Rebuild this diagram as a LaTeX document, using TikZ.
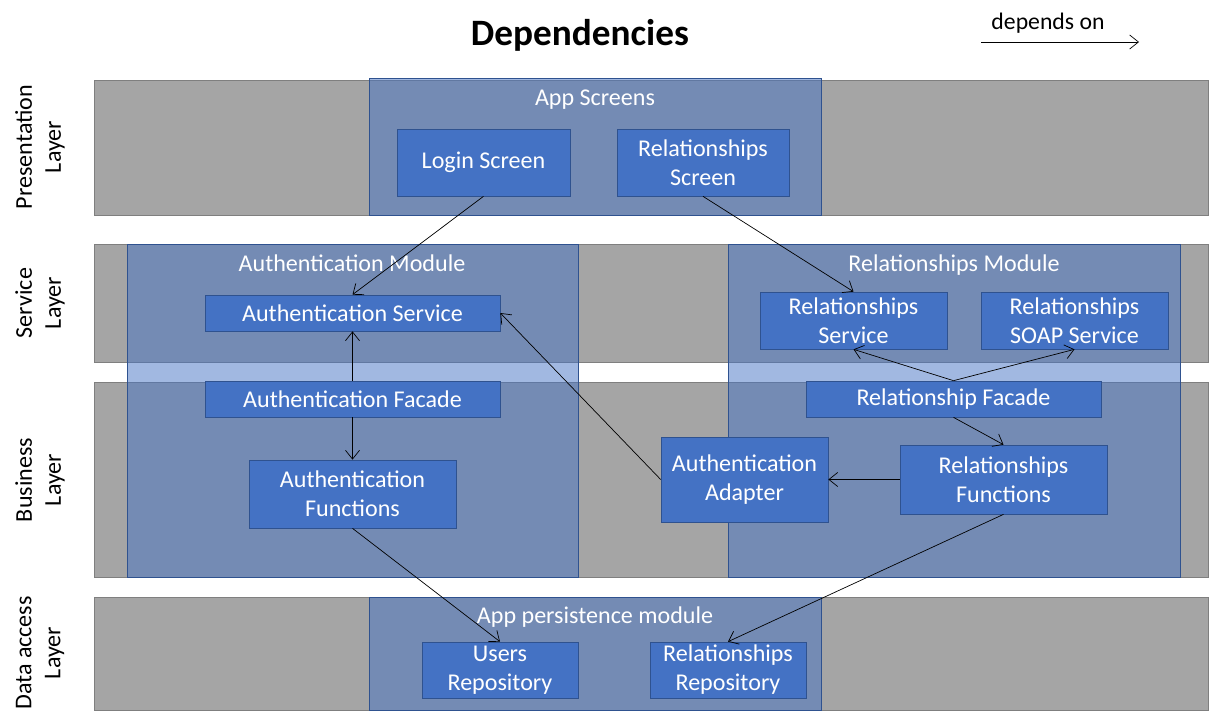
\documentclass[tikz,border=0pt]{standalone}
\usepackage{fontspec}
\setmainfont{Carlito}
\usepackage{tikz}
\usetikzlibrary{arrows.meta, calc, positioning}

\definecolor{bandgray}{HTML}{A5A5A5}
\definecolor{banddraw}{HTML}{7F7F7F}
\definecolor{boxblue}{HTML}{4472C4}
\definecolor{boxdraw}{HTML}{2F528F}

\begin{document}
\begin{tikzpicture}[x=0.02cm, y=-0.02cm, >={Straight Barb[length=5pt, width=8pt]}, font=\fontsize{13.7}{16.5}\selectfont,
    band/.style={draw=banddraw, fill=bandgray},
    module/.style={draw=boxdraw, fill=boxblue, fill opacity=0.5, draw opacity=1},
    comp/.style={draw=boxdraw, fill=boxblue, text=white, align=center, inner sep=0pt},
    modlabel/.style={text=white, text height=0.7em, text depth=0.22em},
    layerlabel/.style={rotate=90, align=center},
    dep/.style={->, black, thin}]
  \useasboundingbox (0,0) rectangle (1209,724);

  % layer bands
  \foreach \top/\bot in {80/215, 244/362, 382/577, 597/710} {\draw[band] (94,\top) rectangle (1208,\bot);}
  \node[layerlabel] (lpres) at (40,147) {Presentation\\Layer};
  \node[layerlabel] (lserv) at (40,303) {Service\\Layer};
  \node[layerlabel] (lbus) at (40,480) {Business\\Layer};
  \node[layerlabel] (ldata) at (40,653) {Data access\\Layer};

  % title and legend
  \node[font=\fontsize{21.2}{25}\selectfont\bfseries] (title) at (580,35) {Dependencies};
  \node[font=\fontsize{13.5}{16}\selectfont] (legend) at (1048,23) {depends on};
  \coordinate (lgA) at (981,42);
  \coordinate (lgB) at (1139,42);
  \draw[dep] (lgA) -- (lgB);

  % modules
  \draw[module] (369,78) rectangle (821,215);
  \draw[module] (127,244) rectangle (578,577);
  \draw[module] (728,244) rectangle (1180,577);
  \draw[module] (369,597) rectangle (821,710);
  \node[modlabel] (mscreens) at (595,101) {App Screens};
  \node[modlabel] (mauth) at (352,267) {Authentication Module};
  \node[modlabel] (mrel) at (954,267) {Relationships Module};
  \node[modlabel] (mpers) at (595,619) {App persistence module};

  % components
  \node[comp, minimum width=3.46cm, minimum height=1.34cm] (login) at (483.5,162.5) {Login Screen};
  \node[comp, minimum width=3.44cm, minimum height=1.34cm] (relscreen) at (703,162.5) {Relationships\\Screen};
  \node[comp, minimum width=5.9cm, minimum height=0.72cm] (authsvc) at (352.5,313) {Authentication Service};
  \node[comp, minimum width=5.9cm, minimum height=0.72cm] (authfac) at (352.5,399) {Authentication Facade};
  \node[comp, minimum width=4.14cm, minimum height=1.36cm] (authfun) at (352.5,494) {Authentication\\Functions};
  \node[comp, minimum width=3.74cm, minimum height=1.14cm] (relsvc) at (853.5,320.5) {Relationships\\Service};
  \node[comp, minimum width=3.74cm, minimum height=1.14cm] (soapsvc) at (1074.5,320.5) {Relationships\\SOAP Service};
  \node[comp, minimum width=5.9cm, minimum height=0.72cm] (relfac) at (953.5,399) {Relationship Facade};
  \node[comp, minimum width=3.34cm, minimum height=1.7cm] (authadp) at (744.5,479.5) {Authentication\\Adapter};
  \node[comp, minimum width=4.14cm, minimum height=1.38cm] (relfun) at (1003.5,479.5) {Relationships\\Functions};
  \node[comp, minimum width=3.12cm, minimum height=1.12cm] (usersrepo) at (500,670) {Users\\Repository};
  \node[comp, minimum width=3.12cm, minimum height=1.12cm] (relrepo) at (728,670) {Relationships\\Repository};

  % dependencies
  \draw[dep] (login.south) -- (authsvc.north);
  \draw[dep] (relscreen.south) -- (relsvc.north);
  \draw[dep] (authfac.north) -- (authsvc.south);
  \draw[dep] (authfac.south) -- (authfun.north);
  \draw[dep] (authadp.west) -- (authsvc.east);
  \draw[dep] (relfac.north) -- (relsvc.south);
  \draw[dep] (relfac.north) -- (soapsvc.south);
  \draw[dep] (relfac.south) -- (relfun.north);
  \draw[dep] (relfun.west) -- (authadp.east);
  \draw[dep] (authfun.south) -- (usersrepo.north);
  \draw[dep] (relfun.south) -- (relrepo.north);
\end{tikzpicture}
\end{document}
